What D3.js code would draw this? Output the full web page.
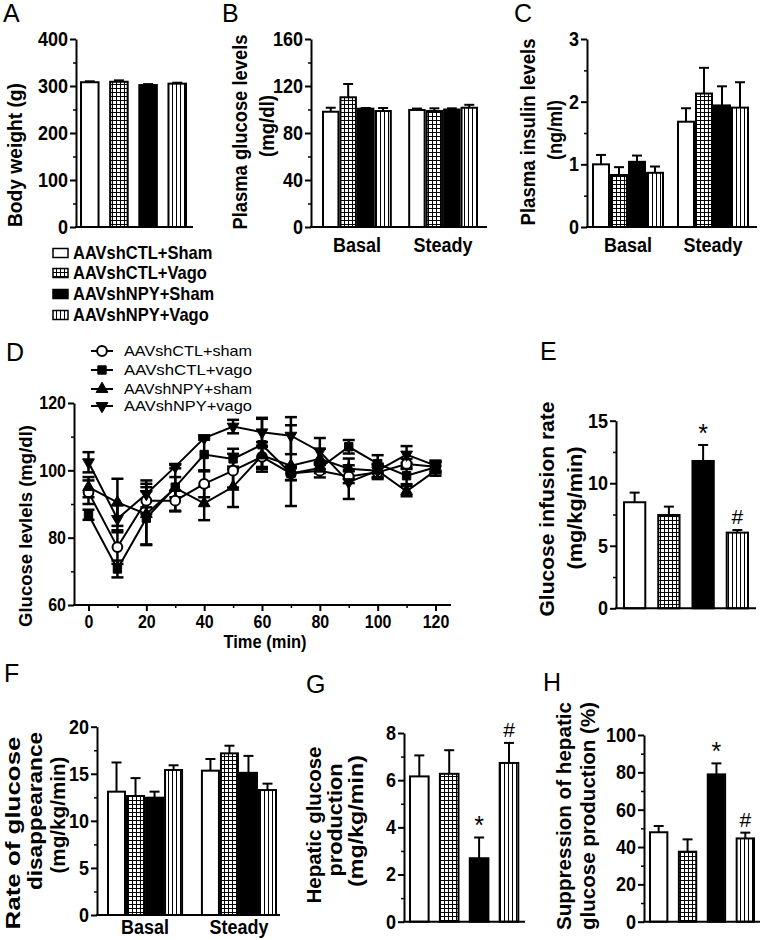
<!DOCTYPE html>
<html><head><meta charset="utf-8">
<script src="https://cdn.jsdelivr.net/npm/d3@7"></script>
<style>body{margin:0;background:#fff} text{font-family:"Liberation Sans",Arial,sans-serif;fill:#000}</style>
</head><body><svg id="c" width="762" height="940"></svg>
<script>
// ---------------- DATA ----------------
const groups = ["AAVshCTL+Sham","AAVshCTL+Vago","AAVshNPY+Sham","AAVshNPY+Vago"];
const phases = ["Basal","Steady"];

const bodyWeight = [308, 309, 302, 305];
const bodyWeightErr = [2, 3, 2, 2];

const plasmaGlucose = [[98.1,110.4,100.7,98.7],[99.6,98.7,100,101.5]];
const plasmaGlucoseErr = [[3.4,11.3,0.6,2.6],[1.2,2.3,1,2.5]];

const plasmaInsulin = [[1.00,0.83,1.04,0.865],[1.68,2.13,1.94,1.905]];
const plasmaInsulinErr = [[0.15,0.125,0.10,0.10],[0.215,0.41,0.305,0.405]];

const timeMin = [0,10,20,30,40,50,60,70,80,90,100,110,120];
const lineLabels = ["AAVshCTL+sham","AAVshCTL+vago","AAVshNPY+sham","AAVshNPY+vago"];
const glcCTLsham = [93.5,77.2,91,91,96,99.9,104,99.1,99.9,98.2,99.4,101.9,101.1];
const glcCTLshamErr = [3.5,5,4,3,4,5,3,2,2,2,2,1.5,1.5];
const glcCTLvago = [86.8,70.7,85.8,95,104.7,103.4,107.6,99.1,100.7,107,102,98.4,100.9];
const glcCTLvagoErr = [1.5,2.5,8,3,5,3,8,2,1.5,2,2.5,2.5,1.5];
const glcNPYsham = [95,90.5,87,94.8,90.2,95.1,104.4,101.4,103.4,100.5,99.9,93.8,99.9];
const glcNPYshamErr = [3,7,9,7,5,6,4,12,3,3,2,1.5,1.5];
const glcNPYvago = [102.4,85.6,93,101.1,109.6,113,111.3,110.3,105.6,96.5,99.9,104.7,101.4];
const glcNPYvagoErr = [3,4,4,0.5,0.5,2,4,5.5,4,5,2,2.5,1.5];

const infusionRate = [8.48,7.46,11.78,6.05];
const infusionRateErr = [0.77,0.67,1.28,0.21];

const disappearance = [[13.1,12.64,12.46,15.4],[15.33,17.17,15.1,13.27]];
const disappearanceErr = [[3.1,1.9,0.64,0.5],[1.24,0.81,1.8,0.68]];

const hepaticProd = [6.16,6.27,2.69,6.73];
const hepaticProdErr = [0.89,1.0,0.88,0.85];

const suppression = [47.9,37.5,78.9,44.6];
const suppressionErr = [3.35,6.6,5.9,3.1];

const sigMarks = ["","","*","#"];

// ---------------- DRAW ----------------
const svg = d3.select("#c");
const defs = svg.append("defs");
const pg = defs.append("pattern").attr("id","grid").attr("patternUnits","userSpaceOnUse").attr("width",4).attr("height",4);
pg.append("rect").attr("width",4).attr("height",4).attr("fill","#fff");
pg.append("path").attr("d","M0,0.5H4M0.5,0V4").attr("stroke","#000").attr("stroke-width",1);
const pv = defs.append("pattern").attr("id","vert").attr("patternUnits","userSpaceOnUse").attr("width",4).attr("height",4);
pv.append("rect").attr("width",4).attr("height",4).attr("fill","#fff");
pv.append("path").attr("d","M0.5,0V4").attr("stroke","#000").attr("stroke-width",1);
const fills = ["#fff","url(#grid)","#000","url(#vert)"];
const VS = 1.12; // vertical stretch of horizontal text

function label(txt,x,y,o={}){
  const t = svg.append("text").text(txt)
    .attr("font-size",o.fs||17).attr("font-weight",o.fw||"bold")
    .attr("text-anchor",o.anchor||"middle");
  if(o.rot){ t.attr("transform",`translate(${x},${y}) rotate(-90)`).attr("dy","0.35em"); }
  else t.attr("transform",`translate(${x},${y}) scale(1,${o.vs||1})`);
  if(o.len){ t.attr("textLength",o.len).attr("lengthAdjust","spacingAndGlyphs"); }
  return t;
}

function yAxis(axisX,y,major,minor,fs){
  const g = svg.append("g").attr("transform",`translate(${axisX},0)`);
  g.call(d3.axisLeft(y).tickValues(major).tickSize(6).tickSizeOuter(0).tickPadding(2).tickFormat(d=>d3.format("~g")(d)));
  g.select(".domain").attr("stroke-width",2);
  g.selectAll(".tick line").attr("stroke-width",2);
  g.selectAll(".tick text").attr("font-size",fs||18).attr("font-weight","bold")
    .attr("font-family","Liberation Sans, Arial, sans-serif").attr("fill","#000")
    .attr("transform",`scale(1,${VS})`);
  const m = svg.append("g").attr("transform",`translate(${axisX},0)`);
  m.call(d3.axisLeft(y).tickValues(minor).tickSize(3).tickFormat(""));
  m.select(".domain").remove();
  m.selectAll(".tick line").attr("stroke-width",1.5);
}

function barPanel(o){
  const y = d3.scaleLinear().domain([0,o.max]).range([o.yBot,o.yTop]);
  const cats = o.cats || [""];
  const outer = d3.scaleBand().domain(cats).range(o.range).paddingInner(o.cats?o.pad:0).paddingOuter(0);
  const inner = d3.scaleBand().domain(groups).range([0,outer.bandwidth()]).paddingInner(o.cats?0:o.pad).paddingOuter(0);
  const vals = o.cats ? o.values : [o.values];
  const errs = o.cats ? o.errs : [o.errs];
  cats.forEach((c,ci)=>{
    groups.forEach((s,si)=>{
      const v = vals[ci][si], e = errs[ci][si];
      const x = outer(c)+inner(s), w = inner.bandwidth(), cx = x+w/2;
      svg.append("line").attr("x1",cx).attr("x2",cx).attr("y1",y(v)).attr("y2",y(v+e)).attr("stroke","#000").attr("stroke-width",2);
      svg.append("line").attr("x1",cx-5).attr("x2",cx+5).attr("y1",y(v+e)).attr("y2",y(v+e)).attr("stroke","#000").attr("stroke-width",2);
      svg.append("rect").attr("x",x+1).attr("y",y(v)).attr("width",w-2).attr("height",y(0)-y(v))
        .attr("fill",fills[si]).attr("stroke","#000").attr("stroke-width",2);
      if(o.marks && o.marks[si]){
        const mk = o.marks[si];
        const top = y(v+e);
        svg.append("text").text(mk).attr("x",cx).attr("y", mk==="*" ? top-3 : top-6)
          .attr("text-anchor","middle").attr("font-size",mk==="*"?25:21).attr("font-weight","normal");
      }
    });
    if(o.cats) label(c, outer(c)+outer.bandwidth()/2, o.catY, {fs:18,vs:VS});
  });
  yAxis(o.axisX,y,o.major,o.minor,o.fs);
  svg.append("line").attr("x1",o.axisX-1).attr("x2",o.xEnd).attr("y1",o.yBot).attr("y2",o.yBot).attr("stroke","#000").attr("stroke-width",2);
  o.ylab.forEach(l=>label(l.t,l.x,l.y,{rot:true,fs:l.fs||20,len:l.len}));
  label(o.letter,o.lx,o.ly,{fs:25,fw:"normal",anchor:"start"});
}

// A
barPanel({axisX:76,xEnd:193,yTop:39,yBot:227,max:400,major:[0,100,200,300,400],minor:[50,150,250,350],
  range:[80,187],pad:0.33,values:bodyWeight,errs:bodyWeightErr,
  ylab:[{t:"Body weight (g)",x:15,y:155,len:144}],letter:"A",lx:3,ly:22});
// B
barPanel({axisX:311,xEnd:487,yTop:39,yBot:227,max:160,major:[0,40,80,120,160],minor:[20,60,100,140],
  range:[322,478],pad:0.19,cats:phases,catY:252,values:plasmaGlucose,errs:plasmaGlucoseErr,
  ylab:[{t:"Plasma glucose levels",x:240,y:132,len:195},{t:"(mg/dl)",x:267,y:126,len:62}],letter:"B",lx:222,ly:22});
// C
barPanel({axisX:587,xEnd:757,yTop:39,yBot:227,max:3,major:[0,1,2,3],minor:[0.5,1.5,2.5],
  range:[592,749],pad:0.153,cats:phases,catY:252,values:plasmaInsulin,errs:plasmaInsulinErr,
  ylab:[{t:"Plasma insulin levels",x:528,y:132,len:187},{t:"(ng/ml)",x:555,y:130,len:60}],letter:"C",lx:514,ly:22});
// E
barPanel({axisX:616,xEnd:756,yTop:420.7,yBot:608.3,max:15,major:[0,5,10,15],minor:[2.5,7.5,12.5],
  range:[623,749],pad:0.32,values:infusionRate,errs:infusionRateErr,marks:sigMarks,
  ylab:[{t:"Glucose infusion rate",x:547,y:509,len:215},{t:"(mg/kg/min)",x:575,y:508,len:123}],letter:"E",lx:540,ly:360});
// F
barPanel({axisX:97,xEnd:280,yTop:726.7,yBot:915,max:20,major:[0,5,10,15,20],minor:[2.5,7.5,12.5,17.5],
  range:[107,277],pad:0.19,cats:phases,catY:934,values:disappearance,errs:disappearanceErr,
  ylab:[{t:"Rate of glucose",x:13,y:833,len:193},{t:"disappearance",x:35,y:811,len:158},{t:"(mg/kg/min)",x:58,y:815,len:117}],
  letter:"F",lx:4,ly:682});
// G
barPanel({axisX:404,xEnd:525,yTop:733,yBot:921.7,max:8,major:[0,2,4,6,8],minor:[1,3,5,7],
  range:[409,519.3],pad:0.31,values:hepaticProd,errs:hepaticProdErr,marks:sigMarks,
  ylab:[{t:"Hepatic glucose",x:314,y:825,len:157},{t:"production",x:335,y:820,len:113},{t:"(mg/kg/min)",x:356,y:821,len:132}],
  letter:"G",lx:306,ly:693});
// H
barPanel({axisX:644,xEnd:760,yTop:735,yBot:921.7,max:100,major:[0,20,40,60,80,100],minor:[10,30,50,70,90],
  range:[649,755],pad:0.33,values:suppression,errs:suppressionErr,marks:sigMarks,
  ylab:[{t:"Suppression of hepatic",x:564,y:816,len:228},{t:"glucose production (%)",x:588,y:816,len:228}],
  letter:"H",lx:543,ly:691});

// Legend (bars)
const legY = [253,273,294,315];
groups.forEach((s,i)=>{
  svg.append("rect").attr("x",53).attr("y",legY[i]-4.5).attr("width",15).attr("height",9)
    .attr("fill",fills[i]).attr("stroke","#000").attr("stroke-width",1.5);
  svg.append("text").text(s).attr("transform",`translate(73,${legY[i]+6}) scale(1,1.08)`)
    .attr("font-size",16.5).attr("font-weight","bold");
});

// D line chart
const dx = d3.scaleLinear().domain([0,120]).range([88.5,435.5]);
const dy = d3.scaleLinear().domain([60,120]).range([605,403]);
const series = [
  {name:lineLabels[0],v:glcCTLsham,e:glcCTLshamErr,sym:d3.symbolCircle,size:75,fill:"#fff"},
  {name:lineLabels[1],v:glcCTLvago,e:glcCTLvagoErr,sym:d3.symbolSquare,size:70,fill:"#000"},
  {name:lineLabels[2],v:glcNPYsham,e:glcNPYshamErr,sym:d3.symbolTriangle,size:60,fill:"#000"},
  {name:lineLabels[3],v:glcNPYvago,e:glcNPYvagoErr,sym:d3.symbolTriangle,size:60,fill:"#000",rot:180}
];
const line = d3.line().x((d,i)=>dx(timeMin[i])).y(d=>dy(d));
series.forEach(s=>{
  svg.append("path").attr("d",line(s.v)).attr("fill","none").attr("stroke","#000").attr("stroke-width",2);
});
series.forEach(s=>{
  s.v.forEach((v,i)=>{
    const x = dx(timeMin[i]);
    const y1 = dy(v-s.e[i]), y2 = dy(v+s.e[i]);
    svg.append("line").attr("x1",x).attr("x2",x).attr("y1",y1).attr("y2",y2).attr("stroke","#000").attr("stroke-width",2.5);
    [y1,y2].forEach(yy=>svg.append("line").attr("x1",x-6).attr("x2",x+6).attr("y1",yy).attr("y2",yy).attr("stroke","#000").attr("stroke-width",2.5));
  });
});
series.forEach(s=>{
  s.v.forEach((v,i)=>{
    svg.append("path").attr("d",d3.symbol().type(s.sym).size(s.size)())
      .attr("transform",`translate(${dx(timeMin[i])},${dy(v)}) rotate(${s.rot||0})`)
      .attr("fill",s.fill).attr("stroke","#000").attr("stroke-width",s.fill==="#fff"?2:1);
  });
});
yAxis(74,dy,[60,80,100,120],[70,90,110],16);
{
  const g = svg.append("g").attr("transform","translate(0,605)");
  g.call(d3.axisBottom(dx).tickValues([0,20,40,60,80,100,120]).tickSize(6).tickSizeOuter(0).tickPadding(3));
  g.select(".domain").remove();
  g.selectAll(".tick line").attr("stroke-width",2);
  g.selectAll(".tick text").attr("font-size",16).attr("font-weight","bold")
    .attr("font-family","Liberation Sans, Arial, sans-serif").attr("fill","#000")
    .attr("transform",`scale(1,${VS})`);
  const m = svg.append("g").attr("transform","translate(0,605)");
  m.call(d3.axisBottom(dx).tickValues([10,30,50,70,90,110]).tickSize(3).tickFormat(""));
  m.select(".domain").remove();
  m.selectAll(".tick line").attr("stroke-width",1.5);
  svg.append("line").attr("x1",73).attr("x2",451).attr("y1",605).attr("y2",605).attr("stroke","#000").attr("stroke-width",2);
}
label("Time (min)",265,648,{fs:16.5,vs:VS});
label("Glucose levlels (mg/dl)",25,526,{rot:true,fs:19,len:202});
label("D",6,361,{fs:25,fw:"normal",anchor:"start"});
// D legend
const dLegY = [351,370,389,406];
series.forEach((s,i)=>{
  svg.append("line").attr("x1",91).attr("x2",113).attr("y1",dLegY[i]).attr("y2",dLegY[i]).attr("stroke","#000").attr("stroke-width",2);
  svg.append("path").attr("d",d3.symbol().type(s.sym).size(s.size)())
    .attr("transform",`translate(102,${dLegY[i]}) rotate(${s.rot||0})`)
    .attr("fill",s.fill).attr("stroke","#000").attr("stroke-width",s.fill==="#fff"?2:1);
  svg.append("text").text(s.name).attr("x",124).attr("y",dLegY[i]).attr("dy","0.35em")
    .attr("font-size",15).attr("font-weight","normal").attr("textLength",128).attr("lengthAdjust","spacingAndGlyphs");
});
</script>
</body></html>
